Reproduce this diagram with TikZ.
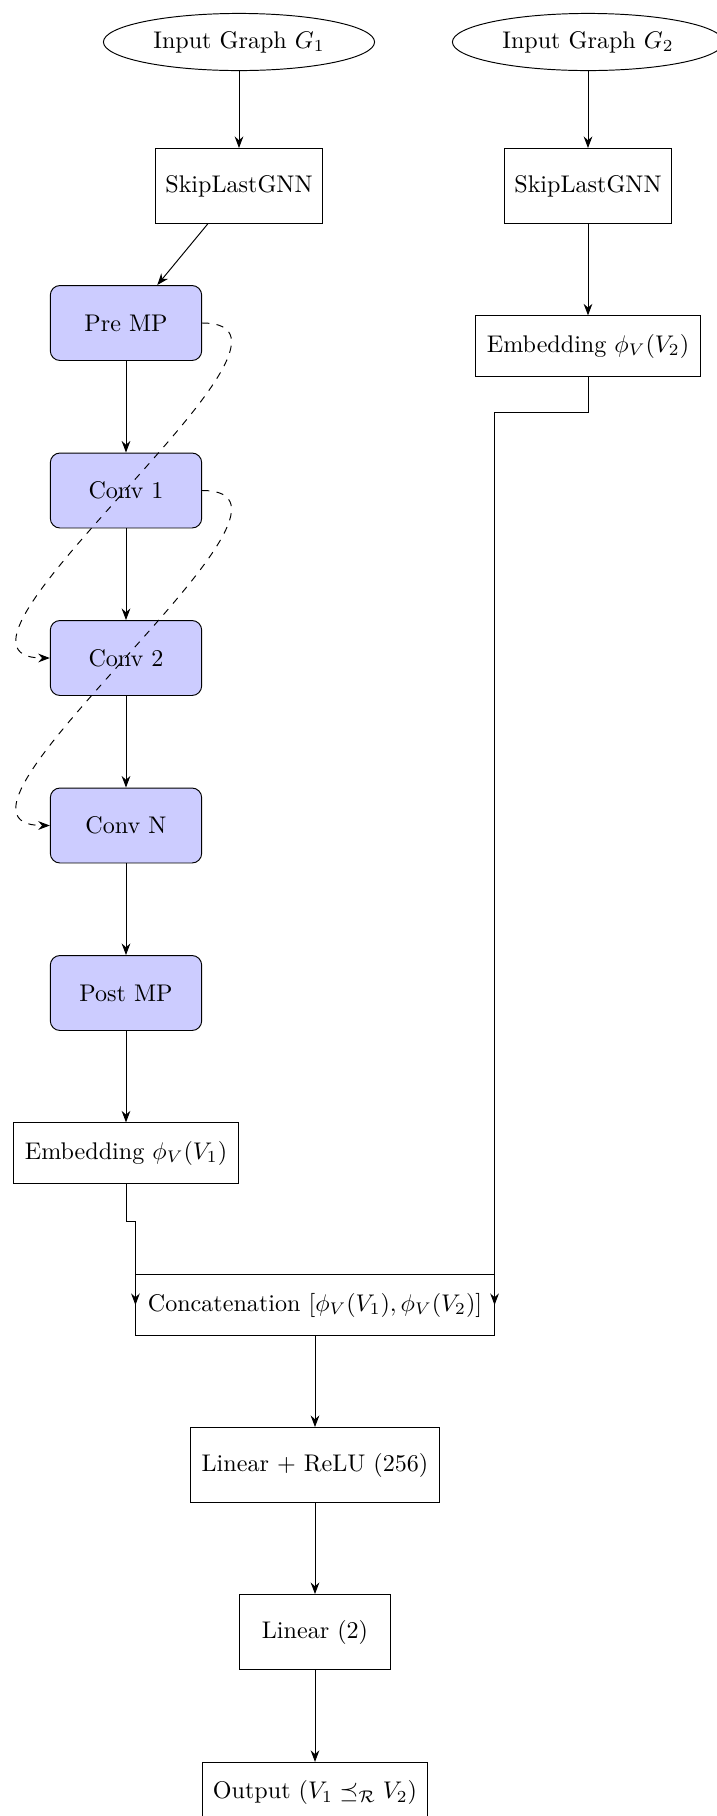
\documentclass[tikz,border=0pt]{standalone}
\usetikzlibrary{shapes.geometric,arrows.meta}
\begin{document}
\begin{tikzpicture}[x=0.4149pt,y=-0.4149pt,>=Stealth,
  graphin/.style={draw, ellipse, inner sep=0pt, minimum width=112.5pt, minimum height=23.7pt},
  plainbox/.style={draw, rectangle, inner sep=2pt, minimum height=31.1pt},
  thinbox/.style={draw, rectangle, inner sep=2pt, minimum height=25pt},
  layerbox/.style={draw, rectangle, rounded corners, fill=blue!20, inner sep=2pt,
                   minimum width=62.8pt, minimum height=31.1pt},
  flow/.style={->},
  skiplink/.style={->, dashed}]
  \clip (0,0) rectangle (717,1816);

  % two input branches
  \node[graphin] (g1) at (239,42) {Input Graph $G_1$};
  \node[graphin] (g2) at (588,42) {Input Graph $G_2$};
  \node[plainbox, minimum width=69.3pt] (skipa) at (239,186) {SkipLastGNN};
  \node[plainbox, minimum width=69.3pt] (skipb) at (588,186) {SkipLastGNN};

  % expanded message-passing stack of the first branch
  \node[layerbox] (premp)  at (126,323)   {Pre MP};
  \node[layerbox] (conv1)  at (126,490.5) {Conv 1};
  \node[layerbox] (conv2)  at (126,658)   {Conv 2};
  \node[layerbox] (convn)  at (126,825.5) {Conv N};
  \node[layerbox] (postmp) at (126,993)   {Post MP};

  % embeddings
  \node[thinbox, minimum width=93pt] (emba) at (126,1153) {Embedding $\phi_V(V_1)$};
  \node[thinbox, minimum width=93pt] (embb) at (588,346)  {Embedding $\phi_V(V_2)$};

  % classifier head
  \node[thinbox, minimum width=148.6pt] (concat) at (315,1305) {Concatenation $[\phi_V(V_1), \phi_V(V_2)]$};
  \node[plainbox, minimum width=103pt] (linrelu) at (315,1465) {Linear + ReLU (256)};
  \node[plainbox, minimum width=62.3pt] (lintwo) at (315,1632) {Linear (2)};
  \node[thinbox, minimum width=93.4pt] (out) at (315,1792.5) {Output ($V_1 \preceq_{\mathcal{R}} V_2$)};

  % connectors
  \draw[flow] (g1) -- (skipa);
  \draw[flow] (g2) -- (skipb);
  \draw[flow] (skipa) -- (premp);
  \draw[flow] (skipb) -- (embb);
  \draw[flow] (premp) -- (conv1);
  \draw[flow] (conv1) -- (conv2);
  \draw[flow] (conv2) -- (convn);
  \draw[flow] (convn) -- (postmp);
  \draw[flow] (postmp) -- (emba);
  \draw[skiplink] (premp.east) to[out=0,in=180] (conv2.west);
  \draw[skiplink] (conv1.east) to[out=0,in=180] (convn.west);
  \draw[flow] (emba.south) -- ++(0,38) -| (concat.west);
  \draw[flow] (embb.south) -- ++(0,36) -| (concat.east);
  \draw[flow] (concat) -- (linrelu);
  \draw[flow] (linrelu) -- (lintwo);
  \draw[flow] (lintwo) -- (out);
\end{tikzpicture}
\end{document}
